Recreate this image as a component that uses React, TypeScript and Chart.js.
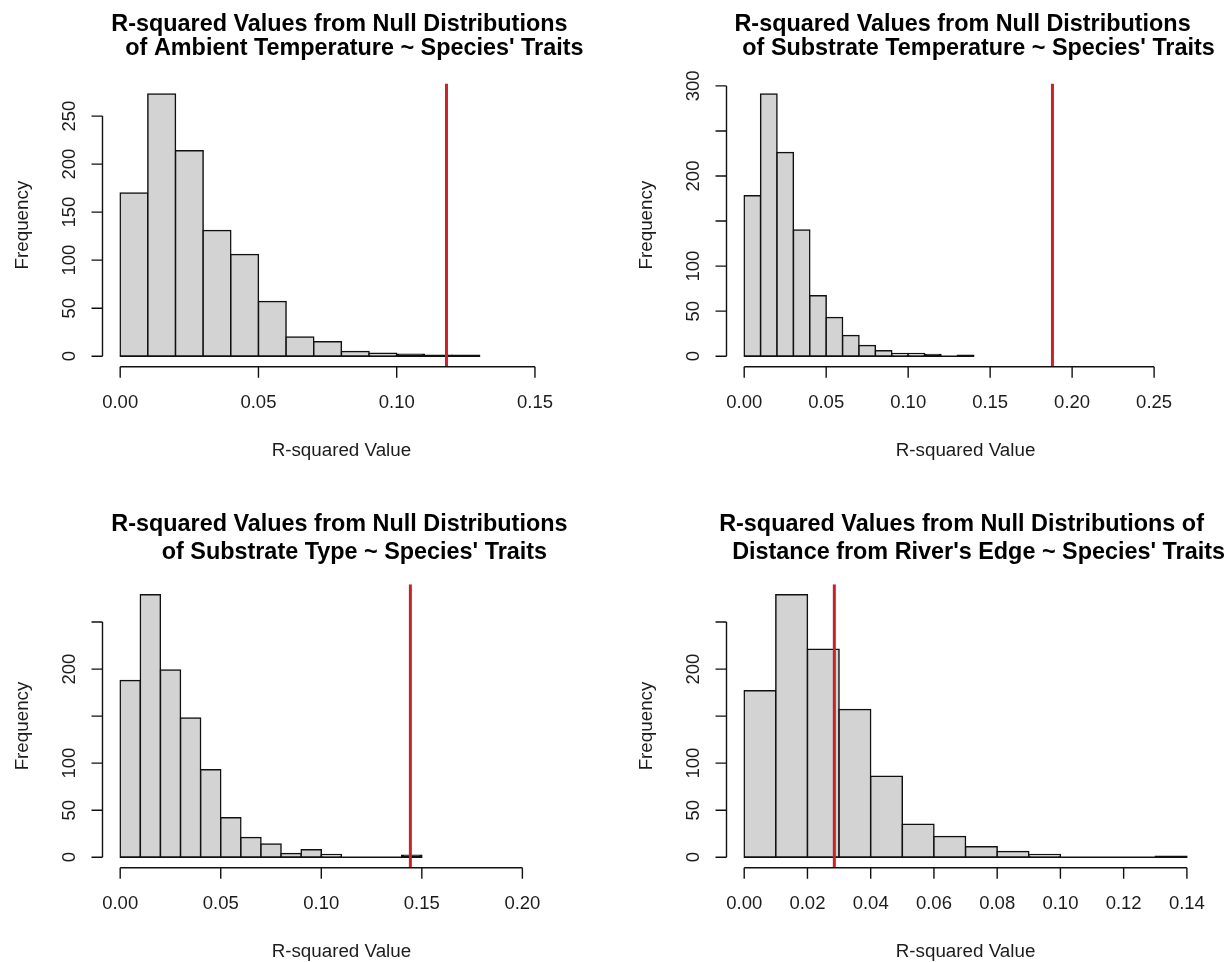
import React, { useEffect, useRef } from 'react';
import { Chart, registerables } from 'chart.js';

Chart.register(...registerables);

// ---------------- data ----------------
const BIN_WIDTH = 0.01;

// Panel 1: Ambient temperature
const ambientTitle = ['R-squared Values from Null Distributions', 'of Ambient Temperature ~ Species\' Traits'];
const ambientBins = [0.00, 0.01, 0.02, 0.03, 0.04, 0.05, 0.06, 0.07, 0.08, 0.09, 0.10, 0.11, 0.12];
const ambientCounts = [170, 273, 214, 131, 106, 57, 20, 15, 5, 3, 2, 1, 1];
const ambientObserved = 0.118;
const ambientXLimit = [0, 0.16];
const ambientXTicks = [0.00, 0.05, 0.10, 0.15];
const ambientXTickLabels = ['0.00', '0.05', '0.10', '0.15'];
const ambientYTicks = [0, 50, 100, 150, 200, 250];
const ambientYTickLabels = ['0', '50', '100', '150', '200', '250'];

// Panel 2: Substrate temperature
const substrateTempTitle = ['R-squared Values from Null Distributions', 'of Substrate Temperature ~ Species\' Traits'];
const substrateTempBins = [0.00, 0.01, 0.02, 0.03, 0.04, 0.05, 0.06, 0.07, 0.08, 0.09, 0.10, 0.11, 0.12, 0.13];
const substrateTempCounts = [178, 291, 226, 140, 67, 43, 23, 12, 6, 3, 3, 2, 0, 1];
const substrateTempObserved = 0.188;
const substrateTempXLimit = [0, 0.27];
const substrateTempXTicks = [0.00, 0.05, 0.10, 0.15, 0.20, 0.25];
const substrateTempXTickLabels = ['0.00', '0.05', '0.10', '0.15', '0.20', '0.25'];
const substrateTempYTicks = [0, 50, 100, 150, 200, 250, 300];
const substrateTempYTickLabels = ['0', '50', '100', '', '200', '', '300'];

// Panel 3: Substrate type
const substrateTypeTitle = ['R-squared Values from Null Distributions', 'of Substrate Type ~ Species\' Traits'];
const substrateTypeBins = [0.00, 0.01, 0.02, 0.03, 0.04, 0.05, 0.06, 0.07, 0.08, 0.09, 0.10, 0.11, 0.12, 0.13, 0.14];
const substrateTypeCounts = [188, 279, 199, 148, 93, 42, 21, 14, 4, 8, 3, 0, 0, 0, 2];
const substrateTypeObserved = 0.1443;
const substrateTypeXLimit = [0, 0.22];
const substrateTypeXTicks = [0.00, 0.05, 0.10, 0.15, 0.20];
const substrateTypeXTickLabels = ['0.00', '0.05', '0.10', '0.15', '0.20'];
const substrateTypeYTicks = [0, 50, 100, 150, 200, 250];
const substrateTypeYTickLabels = ['0', '50', '100', '', '200', ''];

// Panel 4: Distance from river's edge
const riverTitle = ['R-squared Values from Null Distributions of', 'Distance from River\'s Edge ~ Species\' Traits'];
const riverBins = [0.00, 0.01, 0.02, 0.03, 0.04, 0.05, 0.06, 0.07, 0.08, 0.09, 0.10, 0.11, 0.12, 0.13];
const riverCounts = [177, 279, 221, 157, 86, 35, 22, 11, 6, 3, 0, 0, 0, 1];
const riverObserved = 0.0285;
const riverXLimit = [0, 0.14];
const riverXTicks = [0.00, 0.02, 0.04, 0.06, 0.08, 0.10, 0.12, 0.14];
const riverXTickLabels = ['0.00', '0.02', '0.04', '0.06', '0.08', '0.10', '0.12', '0.14'];
const riverYTicks = [0, 50, 100, 150, 200, 250];
const riverYTickLabels = ['0', '50', '100', '', '200', ''];

const X_AXIS_TITLE = 'R-squared Value';
const Y_AXIS_TITLE = 'Frequency';

// ---------------- styles / layout ----------------
const FONT = '"Liberation Sans", Arial, Helvetica, sans-serif';
const BAR_FILL = '#d3d3d3';
const BAR_BORDER_COLOR = '#111111';
const BAR_BORDER = 1.5;
const AXIS_COLOR = '#111111';
const TEXT_COLOR = '#1c1c1c';
const RED = '#c8232b';
const TICK_LEN = 11;

type PanelData = {
  title: string[];
  bins: number[];
  counts: number[];
  observed: number;
  xLimit: number[];
  xTicks: number[];
  xTickLabels: string[];
  yTicks: number[];
  yTickLabels: string[];
};

type PanelLayout = {
  left: number; top: number; width: number; height: number;
  pad: { left: number; right: number; top: number; bottom: number };
  title1: [number, number];
  title2: [number, number];
};

const panels: PanelData[] = [
  { title: ambientTitle, bins: ambientBins, counts: ambientCounts, observed: ambientObserved, xLimit: ambientXLimit, xTicks: ambientXTicks, xTickLabels: ambientXTickLabels, yTicks: ambientYTicks, yTickLabels: ambientYTickLabels },
  { title: substrateTempTitle, bins: substrateTempBins, counts: substrateTempCounts, observed: substrateTempObserved, xLimit: substrateTempXLimit, xTicks: substrateTempXTicks, xTickLabels: substrateTempXTickLabels, yTicks: substrateTempYTicks, yTickLabels: substrateTempYTickLabels },
  { title: substrateTypeTitle, bins: substrateTypeBins, counts: substrateTypeCounts, observed: substrateTypeObserved, xLimit: substrateTypeXLimit, xTicks: substrateTypeXTicks, xTickLabels: substrateTypeXTickLabels, yTicks: substrateTypeYTicks, yTickLabels: substrateTypeYTickLabels },
  { title: riverTitle, bins: riverBins, counts: riverCounts, observed: riverObserved, xLimit: riverXLimit, xTicks: riverXTicks, xTickLabels: riverXTickLabels, yTicks: riverYTicks, yTickLabels: riverYTickLabels },
];

const layouts: PanelLayout[] = [
  { left: 0, top: 0, width: 614, height: 481, pad: { left: 102.5, right: 33.7, top: 83.5, bottom: 114.3 }, title1: [-2, -52.5], title2: [13, -28.3] },
  { left: 614, top: 0, width: 615, height: 481, pad: { left: 112.5, right: 24.4, top: 83.5, bottom: 114.3 }, title1: [-3, -52.5], title2: [13, -28.3] },
  { left: 0, top: 481, width: 614, height: 481, pad: { left: 102.5, right: 33.7, top: 103.3, bottom: 94.3 }, title1: [-2, -53.3], title2: [13, -25.8] },
  { left: 614, top: 481, width: 615, height: 481, pad: { left: 112.5, right: 24.4, top: 103.3, bottom: 94.3 }, title1: [-4, -53.3], title2: [13, -25.8] },
];

function makeRStylePlugin(p: PanelData, l: PanelLayout) {
  return {
    id: 'rStyle',
    afterDatasetDraw(chart: any, args: any) {
      if (args.index !== 0) return;
      const { ctx, scales } = chart;
      const x = scales.x, y = scales.y;
      const y0 = y.getPixelForValue(0);
      ctx.save();
      ctx.strokeStyle = BAR_BORDER_COLOR;
      ctx.lineWidth = BAR_BORDER;
      ctx.beginPath();
      ctx.moveTo(x.getPixelForValue(p.bins[0]), y0);
      ctx.lineTo(x.getPixelForValue(p.bins[p.bins.length - 1] + BIN_WIDTH), y0);
      ctx.stroke();
      ctx.restore();
    },
    afterDraw(chart: any) {
      const { ctx, chartArea, scales } = chart;
      const x = scales.x, y = scales.y;
      const bottom = chartArea.bottom;
      const left = chartArea.left;
      const cx = (chartArea.left + chartArea.right) / 2;
      const cy = (chartArea.top + chartArea.bottom) / 2;
      ctx.save();
      ctx.strokeStyle = AXIS_COLOR;
      ctx.lineWidth = 1.4;
      ctx.lineCap = 'butt';

      // x axis
      const xs = p.xTicks.map((v) => x.getPixelForValue(v));
      ctx.beginPath();
      ctx.moveTo(xs[0], bottom);
      ctx.lineTo(xs[xs.length - 1], bottom);
      xs.forEach((px) => { ctx.moveTo(px, bottom); ctx.lineTo(px, bottom + TICK_LEN); });
      ctx.stroke();

      // y axis
      const ys = p.yTicks.map((v) => y.getPixelForValue(v));
      ctx.beginPath();
      ctx.moveTo(left, ys[0]);
      ctx.lineTo(left, ys[ys.length - 1]);
      ys.forEach((py) => { ctx.moveTo(left, py); ctx.lineTo(left - TICK_LEN, py); });
      ctx.stroke();

      ctx.fillStyle = TEXT_COLOR;
      ctx.font = `18.5px ${FONT}`;
      ctx.textAlign = 'center';
      ctx.textBaseline = 'middle';
      xs.forEach((px, i) => ctx.fillText(p.xTickLabels[i], px, bottom + 36.5));
      ys.forEach((py, i) => {
        const lab = p.yTickLabels[i];
        if (!lab) return;
        ctx.save();
        ctx.translate(left - 33, py);
        ctx.rotate(-Math.PI / 2);
        ctx.fillText(lab, 0, 0);
        ctx.restore();
      });

      // axis titles
      ctx.font = `18.8px ${FONT}`;
      ctx.fillText(X_AXIS_TITLE, cx, bottom + 84);
      ctx.save();
      ctx.translate(left - 80, cy);
      ctx.rotate(-Math.PI / 2);
      ctx.fillText(Y_AXIS_TITLE, 0, 0);
      ctx.restore();

      // main title
      ctx.fillStyle = '#000000';
      ctx.font = `bold 23.4px ${FONT}`;
      ctx.textBaseline = 'alphabetic';
      ctx.fillText(p.title[0], cx + l.title1[0], chartArea.top + l.title1[1]);
      ctx.fillText(p.title[1], cx + l.title2[0], chartArea.top + l.title2[1]);
      ctx.restore();
    },
  };
}

function HistPanel({ p, l }: { p: PanelData; l: PanelLayout }) {
  const ref = useRef<HTMLCanvasElement | null>(null);
  useEffect(() => {
    if (!ref.current) return;
    const xr = p.xLimit[1] - p.xLimit[0];
    const xMin = p.xLimit[0] - 0.04 * xr;
    const xMax = p.xLimit[1] + 0.04 * xr;
    const yTop = Math.max(...p.counts);
    const yMin = -0.04 * yTop;
    const yMax = yTop * 1.04;
    const chart = new Chart(ref.current, {
      type: 'bar',
      data: {
        datasets: [
          {
            type: 'bar',
            data: p.bins.map((b, i) => ({ x: b + BIN_WIDTH / 2, y: p.counts[i] })),
            // very short bars render as solid dark strokes, as in the R output
            backgroundColor: (c: any) => (c.raw && c.raw.y > 0 && c.raw.y <= 2 ? BAR_BORDER_COLOR : BAR_FILL),
            borderColor: BAR_BORDER_COLOR,
            borderWidth: BAR_BORDER,
            borderSkipped: false,
            inflateAmount: BAR_BORDER / 2,
            barPercentage: 1,
            categoryPercentage: 1,
            order: 2,
          } as any,
          {
            type: 'line',
            data: [{ x: p.observed, y: yMin }, { x: p.observed, y: yMax }],
            borderColor: RED,
            borderWidth: 3,
            pointRadius: 0,
            fill: false,
            order: 1,
          } as any,
        ],
      },
      options: {
        animation: false,
        responsive: false,
        devicePixelRatio: 1,
        events: [],
        layout: { padding: l.pad },
        plugins: { legend: { display: false }, tooltip: { enabled: false }, title: { display: false } },
        scales: {
          x: {
            type: 'linear',
            min: xMin,
            max: xMax,
            offset: false,
            display: false,
            afterBuildTicks: (axis: any) => { axis.ticks = p.xTicks.map((v) => ({ value: v })); },
          },
          y: {
            type: 'linear',
            min: yMin,
            max: yMax,
            display: false,
            afterBuildTicks: (axis: any) => { axis.ticks = p.yTicks.map((v) => ({ value: v })); },
          },
        },
      } as any,
      plugins: [makeRStylePlugin(p, l)],
    });
    return () => chart.destroy();
  }, [p, l]);
  return (
    <canvas
      ref={ref}
      width={l.width}
      height={l.height}
      style={{ position: 'absolute', left: l.left, top: l.top, width: l.width, height: l.height }}
    />
  );
}

export default function App() {
  return (
    <div style={{ position: 'absolute', left: 0, top: 0, width: 1229, height: 962, background: '#ffffff', overflow: 'hidden' }}>
      {panels.map((p, i) => (
        <HistPanel key={i} p={p} l={layouts[i]} />
      ))}
    </div>
  );
}
